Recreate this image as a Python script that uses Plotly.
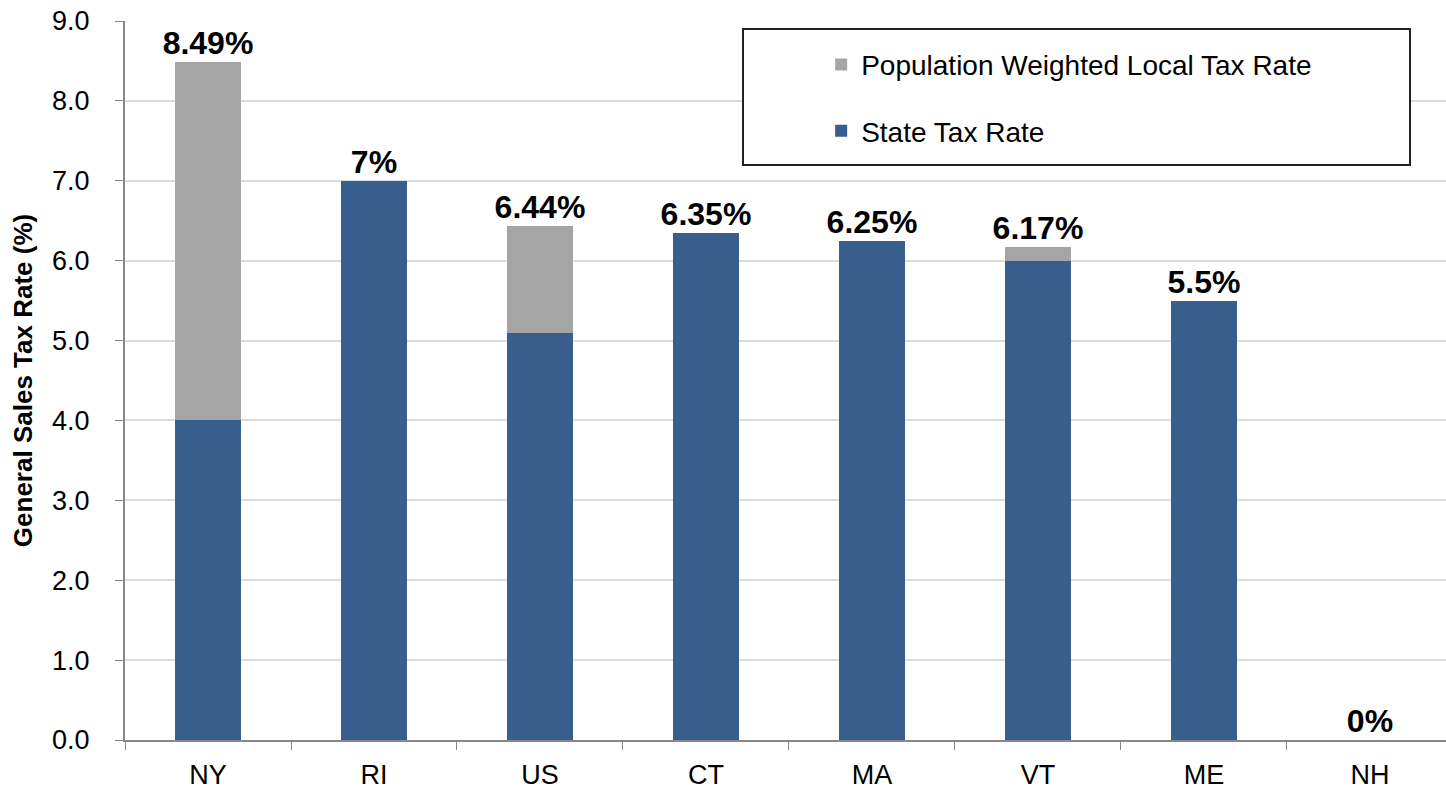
import plotly.graph_objects as go

categories = ["NY", "RI", "US", "CT", "MA", "VT", "ME", "NH"]
state_rate = [4.0, 7.0, 5.09, 6.35, 6.25, 6.0, 5.5, 0.0]
local_rate = [4.49, 0.0, 1.35, 0.0, 0.0, 0.17, 0.0, 0.0]
total_labels = ["8.49%", "7%", "6.44%", "6.35%", "6.25%", "6.17%", "5.5%", "0%"]
totals = [s + l for s, l in zip(state_rate, local_rate)]

BLUE = "#385E8E"
GRAY = "#A5A5A5"
FONT = "Liberation Sans, Arial"

fig = go.Figure()
fig.add_trace(go.Bar(x=categories, y=state_rate, name="State Tax Rate",
                     marker=dict(color=BLUE, line=dict(width=0)), width=0.4,
                     legendgroup="b", legendrank=2))
fig.add_trace(go.Bar(x=categories, y=local_rate, name="Population Weighted Local Tax Rate",
                     marker=dict(color=GRAY, line=dict(width=0)), width=0.4,
                     legendgroup="a", legendrank=1))
fig.add_trace(go.Scatter(x=categories, y=totals, text=total_labels, mode="text",
                         textposition="top center", showlegend=False,
                         textfont=dict(family=FONT, size=32, color="black", weight="bold"),
                         cliponaxis=False))

fig.update_layout(
    width=1446, height=796,
    barmode="stack",
    plot_bgcolor="white", paper_bgcolor="white",
    margin=dict(l=125, r=0, t=21, b=56),
    showlegend=True,
    legend=dict(x=0.527, y=0.974, xanchor="left", yanchor="top",
                traceorder="grouped", tracegroupgap=27,
                font=dict(family=FONT, size=28, color="black"),
                bgcolor="rgba(0,0,0,0)", borderwidth=0),
    xaxis=dict(range=[-0.5, 7.458], tickson="boundaries", ticks="outside", ticklen=8,
               tickcolor="#888888", showline=True, linecolor="#888888", linewidth=2,
               ticklabelstandoff=10,
               tickfont=dict(family=FONT, size=27, color="black"), showgrid=False),
    yaxis=dict(range=[0, 9], dtick=1, tickformat=".1f", ticks="outside", ticklen=8,
               tickcolor="#888888", showline=True, linecolor="#888888", linewidth=2,
               gridcolor="#DCDCDC", gridwidth=2, zeroline=False,
               ticklabelstandoff=20,
               tickfont=dict(family=FONT, size=27, color="black"),
               title=dict(text="General Sales Tax Rate (%)", standoff=12,
                          font=dict(family=FONT, size=26, color="black", weight="bold"))),
    shapes=[dict(type="rect", xref="paper", yref="paper",
                 x0=(743 - 125) / 1321, x1=(1410 - 125) / 1321,
                 y0=(740 - 165) / 719, y1=(740 - 29) / 719,
                 line=dict(color="#222222", width=2), fillcolor="white", layer="above")],
)

fig.write_html("out.html", config={"displayModeBar": False},
               post_script="document.body.style.margin='0';")
